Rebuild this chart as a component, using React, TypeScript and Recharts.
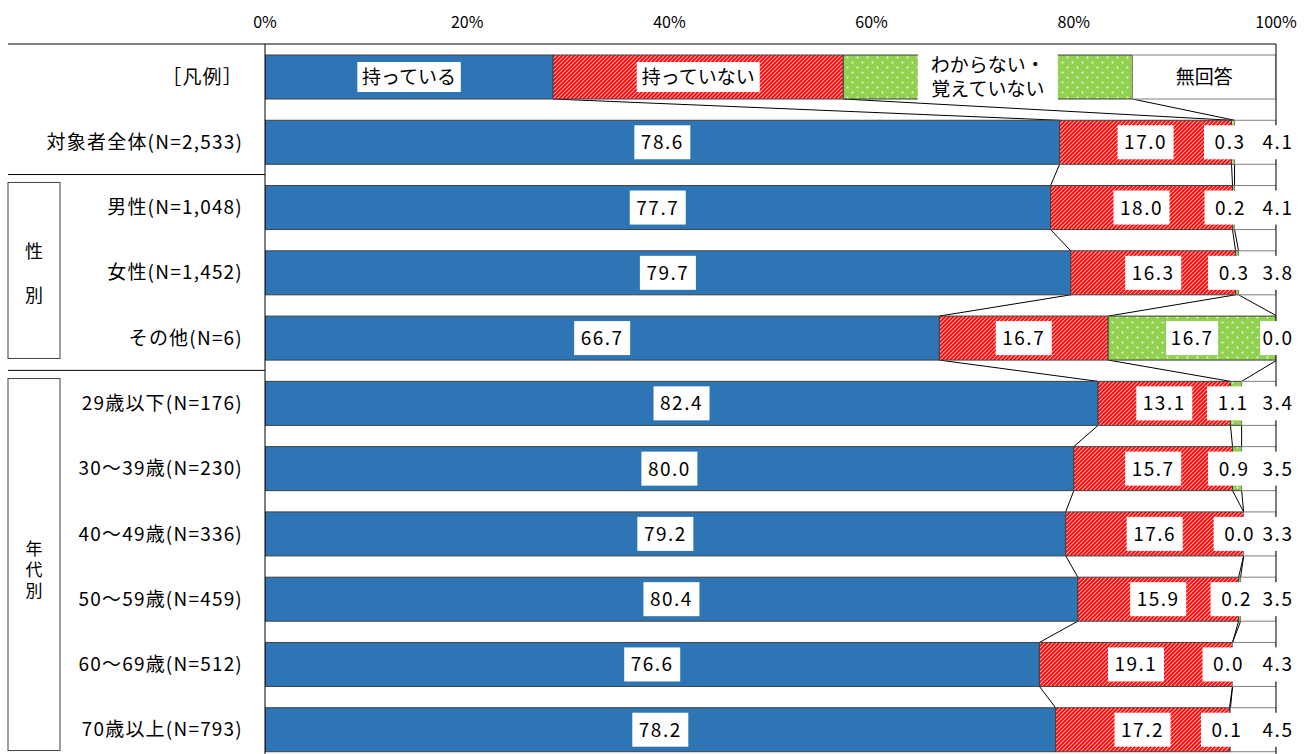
import React from "react";
import { BarChart, Bar, XAxis, YAxis, LabelList, ReferenceLine } from "recharts";

// rows: legend row first, then the groups
const categories = [
  "［凡例］",
  "対象者全体(N=2,533)",
  "男性(N=1,048)",
  "女性(N=1,452)",
  "その他(N=6)",
  "29歳以下(N=176)",
  "30～39歳(N=230)",
  "40～49歳(N=336)",
  "50～59歳(N=459)",
  "60～69歳(N=512)",
  "70歳以上(N=793)",
];

const seriesNames = ["持っている", "持っていない", "わからない・覚えていない", "無回答"];

// widths of the legend row segments
const legendShares = [28.5, 28.7, 28.6, 14.2];

const having = [78.6, 77.7, 79.7, 66.7, 82.4, 80.0, 79.2, 80.4, 76.6, 78.2];
const notHaving = [17.0, 18.0, 16.3, 16.7, 13.1, 15.7, 17.6, 15.9, 19.1, 17.2];
const unknown = [0.3, 0.2, 0.3, 16.7, 1.1, 0.9, 0.0, 0.2, 0.0, 0.1];
const noAnswer = [4.1, 4.1, 3.8, 0.0, 3.4, 3.5, 3.3, 3.5, 4.3, 4.5];

const xTicks = [0, 20, 40, 60, 80, 100];

const data = categories.map((name, i) => {
  if (i === 0) {
    return { name, s0: legendShares[0], s1: legendShares[1], s2: legendShares[2], s3: legendShares[3] };
  }
  return { name, s0: having[i - 1], s1: notHaving[i - 1], s2: unknown[i - 1], s3: noAnswer[i - 1] };
});

const FONT = '"Noto Sans CJK JP", "Noto Sans", sans-serif';
const CHART_W = 1311;
const CHART_H = 762;
const AXIS_H = 44;
const BAR_SIZE = 44;
const BAND = (CHART_H - AXIS_H) / categories.length;

// which category row a label sits in (label indexes skip empty segments)
const rowOf = (cy: number) => Math.floor((cy - AXIS_H) / BAND);

const cumulative = (i: number) => {
  const r = data[i];
  return [r.s0, r.s0 + r.s1, r.s0 + r.s1 + r.s2];
};

// blue segment also draws the series lines down to the next row
const BlueShape = (props: any) => {
  const { x, y, width, height, fill } = props;
  const index = rowOf(y + height / 2);
  const scale = width / data[index].s0;
  const px = (v: number) => x + v * scale;
  const lines: React.ReactNode[] = [];
  if (index < data.length - 1) {
    const a = cumulative(index);
    const b = cumulative(index + 1);
    for (let k = 0; k < 3; k++) {
      lines.push(
        <line key={k} x1={px(a[k])} y1={y + height} x2={px(b[k])} y2={y + BAND} stroke="#000" strokeWidth={1} />
      );
    }
  }
  return (
    <g>
      {lines}
      <rect x={x} y={y} width={width} height={height} fill={fill} stroke="#404040" strokeWidth={1} />
    </g>
  );
};

const NumberBox = ({ cx, cy, value, boxW }: { cx: number; cy: number; value: number; boxW: number }) => (
  <g>
    <rect x={cx - boxW / 2} y={cy - 17} width={boxW} height={34} fill="#fff" />
    <text x={cx} y={cy + 7} textAnchor="middle" fontFamily={FONT} fontSize={19} letterSpacing={1.5} fill="#000">
      {value.toFixed(1)}
    </text>
  </g>
);

const makeLabel = (series: number) => (props: any) => {
  const vb = props.viewBox ?? props;
  const { x, y, width, height } = vb;
  const cy = y + height / 2;
  const index = rowOf(cy);
  if (index === 0) {
    const name = seriesNames[series];
    const cx = x + width / 2;
    if (series === 2) {
      return (
        <g>
          <rect x={cx - 70} y={cy - 25} width={140} height={50} fill="#fff" />
          <text textAnchor="middle" fontFamily={FONT} fontSize={19} fill="#000">
            <tspan x={cx} y={cy - 5}>わからない・</tspan>
            <tspan x={cx} y={cy + 19}>覚えていない</tspan>
          </text>
        </g>
      );
    }
    const w = name.length * 19.5 + 6;
    return (
      <g>
        <rect x={cx - w / 2} y={cy - 15} width={w} height={30} fill="#fff" />
        <text x={cx} y={cy + 7} textAnchor="middle" fontFamily={FONT} fontSize={19} fill="#000">
          {name}
        </text>
      </g>
    );
  }
  const row = index - 1;
  const value = Number(props.value);
  if (series === 2) {
    // green label; also the 無回答 label when that segment is empty
    const cx = width < 50 ? x + width / 2 - 3 : x + width / 2;
    return (
      <g>
        <NumberBox cx={cx} cy={cy} value={value} boxW={52} />
        {noAnswer[row] === 0 && <NumberBox cx={x + width + 2} cy={cy} value={0} boxW={36} />}
      </g>
    );
  }
  if (series === 3) {
    // 無回答 label; also the green label when that segment is empty
    return (
      <g>
        {unknown[row] === 0 && <NumberBox cx={x - 4} cy={cy} value={0} boxW={52} />}
        <NumberBox cx={x + width + 2} cy={cy} value={value} boxW={36} />
      </g>
    );
  }
  return <NumberBox cx={x + width / 2} cy={cy} value={value} boxW={56} />;
};

const CategoryTick = (props: any) => {
  const { y, payload, index } = props;
  const top = y - BAND / 2;
  const bottom = y + BAND / 2;
  return (
    <g>
      {index === 0 && <line x1={8} y1={top} x2={265} y2={top} stroke="#000" />}
      {(index === 1 || index === 4) && <line x1={8} y1={bottom} x2={265} y2={bottom} stroke="#000" />}
      {index === 3 && (
        <g>
          <rect x={8} y={y - 90} width={52} height={176} fill="#fff" stroke="#404040" />
          <text textAnchor="middle" fontFamily={FONT} fontSize={18} fill="#000">
            <tspan x={34} y={y - 14}>性</tspan>
            <tspan x={34} y={y + 30}>別</tspan>
          </text>
        </g>
      )}
      {index === 7 && (
        <g>
          <rect x={8} y={y - 155} width={52} height={372} fill="#fff" stroke="#404040" />
          <text textAnchor="middle" fontFamily={FONT} fontSize={17} fill="#000">
            <tspan x={34} y={y + 21}>年</tspan>
            <tspan x={34} y={y + 42}>代</tspan>
            <tspan x={34} y={y + 63}>別</tspan>
          </text>
        </g>
      )}
      <text x={243} y={y + 7} textAnchor="end" fontFamily={FONT} fontSize={19} letterSpacing={1.2} fill="#000">
        {payload.value}
      </text>
    </g>
  );
};

const PercentTick = (props: any) => {
  const { x, payload } = props;
  return (
    <text x={x} y={28} textAnchor="middle" fontFamily={FONT} fontSize={16} fill="#000">
      {`${payload.value}%`}
    </text>
  );
};

export default function App() {
  return (
    <div style={{ position: "absolute", left: 0, top: 0, width: CHART_W, height: 754, overflow: "hidden", background: "#fff" }}>
      <svg width={0} height={0} style={{ position: "absolute" }}>
        <defs>
          <pattern id="redHatch" width={4} height={4} patternUnits="userSpaceOnUse">
            <rect width={4} height={4} fill="#ff0000" />
            <path d="M-1,1 l2,-2 M0,4 l4,-4 M3,5 l2,-2" stroke="#ffb3b3" strokeWidth={1.1} />
          </pattern>
          <pattern id="greenDots" width={10} height={10} patternUnits="userSpaceOnUse">
            <rect width={10} height={10} fill="#92d050" />
            <circle cx={2.5} cy={2.5} r={1} fill="#f0f8e6" />
            <circle cx={7.5} cy={7.5} r={1} fill="#f0f8e6" />
          </pattern>
        </defs>
      </svg>
      <BarChart
        width={CHART_W}
        height={CHART_H}
        data={data}
        layout="vertical"
        margin={{ top: 0, right: 35, bottom: 0, left: 8 }}
        barSize={BAR_SIZE}
      >
        <XAxis
          type="number"
          orientation="top"
          domain={[0, 100]}
          ticks={xTicks}
          allowDataOverflow
          height={AXIS_H}
          tickLine={false}
          axisLine={{ stroke: "#000" }}
          tick={(p: any) => <PercentTick {...p} />}
        />
        <YAxis
          type="category"
          dataKey="name"
          width={257}
          tickLine={false}
          axisLine={{ stroke: "#000" }}
          interval={0}
          tick={(p: any) => <CategoryTick {...p} />}
        />
        <ReferenceLine x={100} stroke="#000" />
        <Bar dataKey="s0" stackId="a" fill="#2e75b6" shape={(p: any) => <BlueShape {...p} />} isAnimationActive={false}>
          <LabelList dataKey="s0" content={makeLabel(0)} />
        </Bar>
        <Bar dataKey="s1" stackId="a" fill="url(#redHatch)" stroke="#404040" strokeWidth={1} isAnimationActive={false}>
          <LabelList dataKey="s1" content={makeLabel(1)} />
        </Bar>
        <Bar dataKey="s2" stackId="a" fill="url(#greenDots)" stroke="#404040" strokeWidth={1} isAnimationActive={false}>
          <LabelList dataKey="s2" content={makeLabel(2)} />
        </Bar>
        <Bar dataKey="s3" stackId="a" fill="#fff" stroke="#808080" strokeWidth={1} isAnimationActive={false}>
          <LabelList dataKey="s3" content={makeLabel(3)} />
        </Bar>
      </BarChart>
    </div>
  );
}
